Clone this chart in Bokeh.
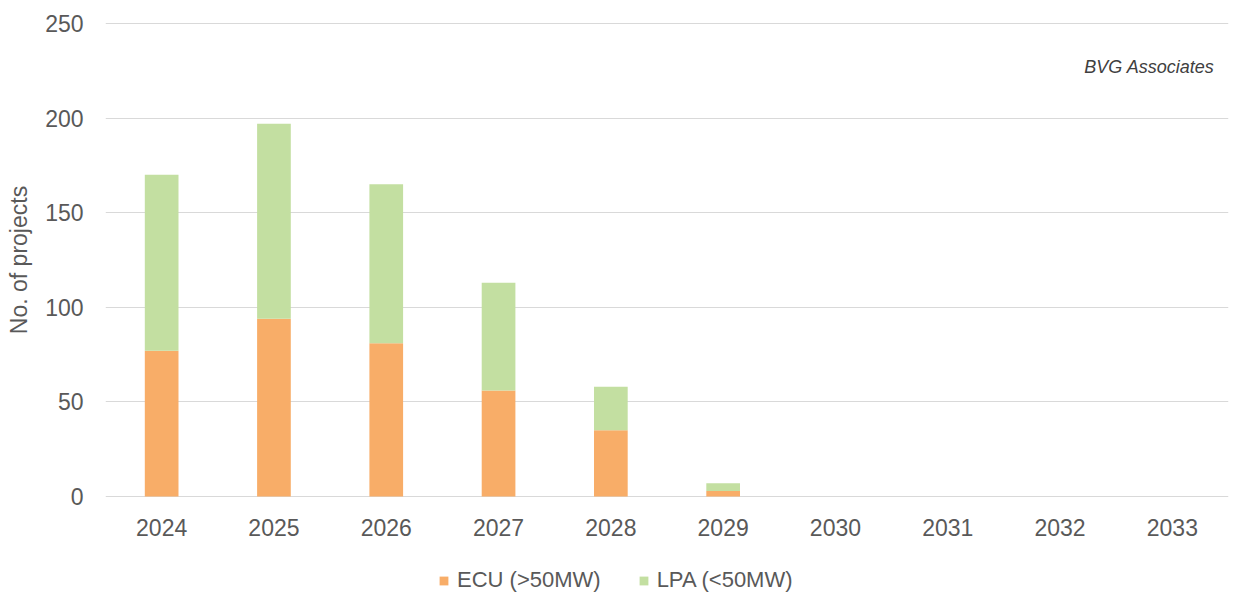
from bokeh.plotting import figure
from bokeh.models import Legend, LegendItem, FixedTicker, ColumnDataSource
from bokeh.layouts import column
from bokeh.core.properties import value
from bokeh.embed import file_html
from bokeh.resources import INLINE

years = ["2024", "2025", "2026", "2027", "2028", "2029", "2030", "2031", "2032", "2033"]
ecu = [77, 94, 81, 56, 35, 3, 0, 0, 0, 0]
lpa = [93, 103, 84, 57, 23, 4, 0, 0, 0, 0]
series = ["ECU (>50MW)", "LPA (<50MW)"]
colors = ["#F8AD68", "#C3DFA1"]
y_ticks = [0, 50, 100, 150, 200, 250]
source_note = "BVG Associates"

FONT = "Liberation Sans"
TXT = "#595959"

src = ColumnDataSource(dict(year=years, ecu=ecu, lpa=lpa))

p = figure(x_range=years, y_range=(-0.5, 250.5), width=1234, height=563,
           output_backend="svg", toolbar_location=None,
           min_border_left=105, min_border_right=6, min_border_top=22,
           min_border_bottom=66)

rs = p.vbar_stack(["ecu", "lpa"], x="year", width=0.30, source=src,
                  color=colors, line_color=None)

p.outline_line_color = None
p.background_fill_color = "white"
p.border_fill_color = "white"

p.xgrid.grid_line_color = None
p.ygrid.grid_line_color = "#D9D9D9"
p.ygrid.grid_line_width = 1
p.yaxis.ticker = FixedTicker(ticks=y_ticks)

for ax in (p.xaxis[0], p.yaxis[0]):
    ax.axis_line_color = None
    ax.major_tick_line_color = None
    ax.minor_tick_line_color = None
    ax.major_tick_out = 0
    ax.major_tick_in = 0
    ax.major_label_text_font = FONT
    ax.major_label_text_font_size = "23px"
    ax.major_label_text_color = TXT

p.xaxis.major_label_standoff = 21
p.yaxis.major_label_standoff = 22
p.yaxis.axis_label = "No. of projects"
p.yaxis.axis_label_text_font = FONT
p.yaxis.axis_label_text_font_size = "23px"
p.yaxis.axis_label_text_font_style = "normal"
p.yaxis.axis_label_text_color = TXT
p.yaxis.axis_label_standoff = 10

p.text(x=["2033"], y=[227], text=[source_note], x_offset=42,
       text_align="right", text_baseline="middle",
       text_font=value(FONT), text_font_size="18px",
       text_font_style="italic", text_color="#404040")

# Legend row drawn in its own strip below the chart
p2 = figure(width=1234, height=30, x_range=(0, 1), y_range=(0, 1),
            output_backend="svg", toolbar_location=None,
            x_axis_type=None, y_axis_type=None,
            min_border_left=105, min_border_right=6, min_border_top=0,
            min_border_bottom=0)
p2.outline_line_color = None
p2.background_fill_color = "white"
p2.border_fill_color = "white"
# swatch renderers for the legend, with zero-height bars far outside the view
dummy = ColumnDataSource(dict(x=[1000], top=[0]))
l1 = p2.vbar(x="x", top="top", bottom=0, width=0.1, source=dummy,
             color=colors[0], line_color=None)
l2 = p2.vbar(x="x", top="top", bottom=0, width=0.1, source=dummy,
             color=colors[1], line_color=None)

legend = Legend(items=[LegendItem(label=series[0], renderers=[l1]),
                       LegendItem(label=series[1], renderers=[l2])],
                orientation="horizontal", location=(333, 0),
                glyph_width=11, glyph_height=11, label_standoff=8,
                spacing=37, padding=0, margin=0,
                label_text_font=FONT, label_text_font_size="22px",
                label_text_color=TXT, label_height=22,
                border_line_color=None, background_fill_alpha=0)
p2.add_layout(legend, "center")

open("out.html", "w").write(file_html(column(p, p2, spacing=0), INLINE))
